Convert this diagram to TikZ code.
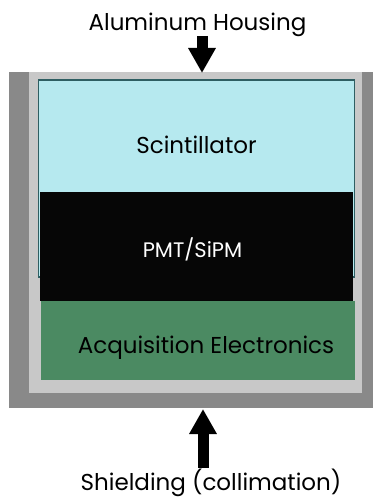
\documentclass[tikz,border=0pt]{standalone}
\usepackage{fontspec}
\setmainfont{Poppins}
\usetikzlibrary{arrows.meta}

\definecolor{shieldgray}{HTML}{898989}
\definecolor{housinggray}{HTML}{C8C8C8}
\definecolor{scintcyan}{HTML}{B6E9EF}
\definecolor{scintedge}{HTML}{2E5E62}
\definecolor{pmtblack}{HTML}{060606}
\definecolor{elecgreen}{HTML}{4B8A62}

\tikzset{
  layer/.style={draw=none, inner sep=0pt, outer sep=0pt},
  labeltext/.style={inner sep=0pt, font=\fontsize{23}{26}\selectfont},
  bigarrow/.style={line width=11pt, -{Triangle[width=26pt,length=25pt]}}
}

\begin{document}
\begin{tikzpicture}[x=1pt,y=-1pt]
\useasboundingbox (0,0) rectangle (373,500);

% shielding and housing
\node[layer, fill=shieldgray, minimum width=364pt, minimum height=336pt] (shield) at (191,240) {};
\node[layer, fill=housinggray, minimum width=333pt, minimum height=321pt] (housing) at (195.5,232.5) {};

% detector stack
\node[layer, draw=scintedge, line width=1.5pt, fill=scintcyan, minimum width=316pt, minimum height=197pt] (scint) at (196.5,178.5) {};
\node[layer, fill=pmtblack, minimum width=313pt, minimum height=109pt] (pmt) at (196.5,246.5) {};
\node[layer, fill=elecgreen, minimum width=314pt, minimum height=79pt] (elec) at (198,340.5) {};

\node[labeltext] (scintlbl) at (196.5,145) {Scintillator};
\node[labeltext, text=white, font=\fontsize{21}{24}\selectfont] (pmtlbl) at (192.5,249) {PMT/SiPM};
\node[labeltext] (eleclbl) at (206,348) {Acquisition Electronics};

% labels and arrows
\node[labeltext] (alulbl) at (197.5,25) {Aluminum Housing};
\node[labeltext] (shieldlbl) at (211,483) {Shielding (collimation)};

\coordinate (alustart) at (202,36);
\coordinate (aluend) at (202,73);
\coordinate (shieldstart) at (203,468);
\coordinate (shieldend) at (203,409);
\draw[bigarrow] (alustart) -- (aluend);
\draw[bigarrow] (shieldstart) -- (shieldend);

\end{tikzpicture}
\end{document}
